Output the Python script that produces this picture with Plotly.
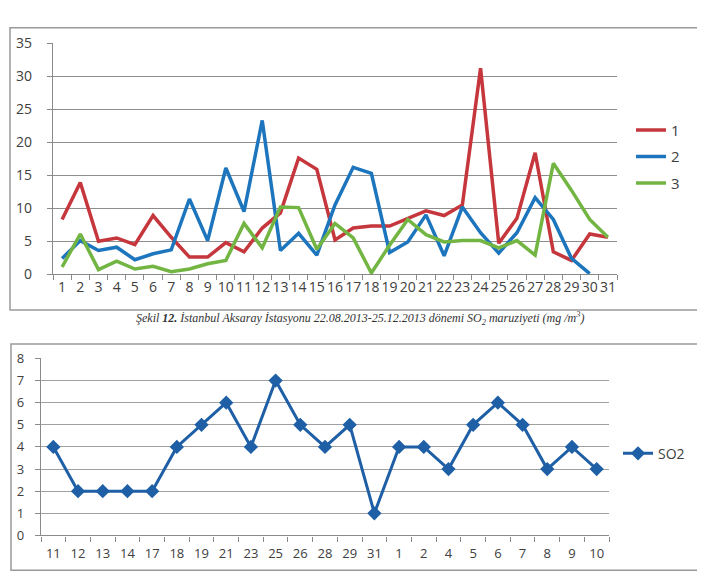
import plotly.graph_objects as go

# ---- Top chart data ----
days = [str(i) for i in range(1, 32)]
series1 = [8.3, 13.9, 5.0, 5.5, 4.5, 8.9, 5.6, 2.6, 2.6, 4.8, 3.4, 7.0, 9.3, 17.6, 15.9, 5.2,
           7.0, 7.3, 7.3, 8.5, 9.6, 8.9, 10.5, 31.2, 4.7, 8.5, 18.4, 3.4, 2.1, 6.1, 5.6]
series2 = [2.4, 5.1, 3.6, 4.1, 2.2, 3.1, 3.7, 11.4, 5.1, 16.1, 9.5, 23.3, 3.6, 6.2, 2.9, 10.5,
           16.2, 15.3, 3.3, 4.9, 9.0, 2.8, 10.2, 6.3, 3.2, 6.3, 11.6, 8.3, 2.4, 0.1, None]
series3 = [1.1, 6.1, 0.7, 2.0, 0.8, 1.2, 0.4, 0.8, 1.6, 2.1, 7.7, 4.0, 10.2, 10.1, 3.8, 7.7,
           5.5, 0.2, 4.4, 8.3, 6.0, 4.9, 5.1, 5.1, 4.0, 5.1, 2.9, 16.8, 12.7, 8.3, 5.6]
series_names = ["1", "2", "3"]
series_colors = ["#C5373D", "#1D76BD", "#73B543"]
top_yticks = [0, 5, 10, 15, 20, 25, 30, 35]

# ---- Bottom chart data ----
so2_days = ["11", "12", "13", "14", "17", "18", "19", "21", "23", "25", "26", "28", "29", "31",
            "1", "2", "4", "5", "6", "7", "8", "9", "10"]
so2_values = [4, 2, 2, 2, 2, 4, 5, 6, 4, 7, 5, 4, 5, 1, 4, 4, 3, 5, 6, 5, 3, 4, 3]
bottom_yticks = [0, 1, 2, 3, 4, 5, 6, 7, 8]

W, H = 705, 578
def px_x(v): return v / W
def px_y(v): return 1 - v / H

FONT = "Open Sans"
TXT = "#404040"
GRID = "#8E8E8E"

fig = go.Figure()
for name, vals, col in zip(series_names, [series1, series2, series3], series_colors):
    fig.add_trace(go.Scatter(x=days, y=vals, name=name, mode="lines",
                             line=dict(color=col, width=3.5), xaxis="x", yaxis="y",
                             legend="legend", legendgroup=name))

fig.add_trace(go.Scatter(x=so2_days, y=so2_values, name="SO2", mode="lines+markers",
                         line=dict(color="#1E5FA6", width=3),
                         marker=dict(symbol="diamond", size=11, color="#1E5FA6"),
                         xaxis="x2", yaxis="y2", legend="legend2"))

axis_common = dict(showline=True, linecolor="#8A8A8A", linewidth=1.2, ticks="outside",
                   tickcolor="#8A8A8A", ticklen=5, zeroline=False)

fig.update_layout(
    width=W, height=H, margin=dict(l=0, r=0, t=0, b=0),
    paper_bgcolor="white", plot_bgcolor="white",
    font=dict(family=FONT, color=TXT),
    xaxis=dict(domain=[px_x(45), px_x(609)], anchor="y", type="category",
               range=[-0.5, len(days) - 0.5], tickmode="linear", dtick=1, tickangle=0,
               tickson="boundaries", showgrid=False, tickfont=dict(size=14),
               ticklabelstandoff=0, **axis_common),
    yaxis=dict(domain=[px_y(265), px_y(26)], anchor="x", range=[0, 35], tickvals=top_yticks,
               showgrid=True, gridcolor=GRID, gridwidth=1.3, tickfont=dict(size=14),
               ticklabelstandoff=12, **axis_common),
    xaxis2=dict(domain=[px_x(33), px_x(601)], anchor="y2", type="category",
                range=[-0.5, len(so2_days) - 0.5], tickmode="linear", dtick=1, tickangle=0,
                tickson="boundaries", showgrid=False, tickfont=dict(size=13),
                ticklabelstandoff=6, **axis_common),
    yaxis2=dict(domain=[px_y(535), px_y(352)], anchor="x2", range=[0, 8], tickvals=bottom_yticks,
                showgrid=True, gridcolor="#A0A0A0", gridwidth=1.2, tickfont=dict(size=13),
                ticklabelstandoff=8, **axis_common),
    legend=dict(x=px_x(623), y=px_y(99), xanchor="left", yanchor="top",
                font=dict(size=15, color=TXT), traceorder="grouped", tracegroupgap=4,
                bgcolor="rgba(0,0,0,0)"),
    legend2=dict(x=px_x(610), y=px_y(434), xanchor="left", yanchor="top",
                 font=dict(size=14, color=TXT), bgcolor="rgba(0,0,0,0)"),
    showlegend=True,
)

# Chart frames
fig.add_shape(type="rect", xref="paper", yref="paper", x0=px_x(2), x1=px_x(698),
              y0=px_y(302), y1=px_y(10), line=dict(color="#9A9A9A", width=1.5))
fig.add_shape(type="rect", xref="paper", yref="paper", x0=px_x(3), x1=px_x(699),
              y0=px_y(571), y1=px_y(337), line=dict(color="#9A9A9A", width=1.5))

# Caption
fig.add_annotation(
    xref="paper", yref="paper", x=px_x(352), y=px_y(311), showarrow=False,
    xanchor="center", yanchor="middle",
    text="<i>Şekil <b>12.</b> İstanbul Aksaray İstasyonu 22.08.2013-25.12.2013 dönemi SO<sub>2</sub> maruziyeti (mg /m<sup>3</sup>)</i>",
    font=dict(family="Liberation Serif", size=12, color="#333333"))

fig.write_html("out.html")
